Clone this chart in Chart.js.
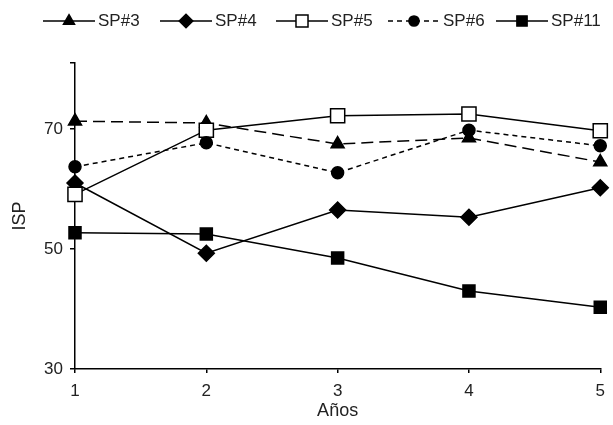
<!DOCTYPE html>
<html>
<head>
<meta charset="utf-8">
<script src="https://cdn.jsdelivr.net/npm/chart.js@4/dist/chart.umd.min.js"></script>
<style>
html,body{margin:0;padding:0;background:#fff;}
#wrap{width:613px;height:425px;}
</style>
</head>
<body>
<div id="wrap"><canvas id="c" width="613" height="425"></canvas></div>
<script>
const categories = ['1', '2', '3', '4', '5'];
const seriesNames = ['SP#3', 'SP#4', 'SP#5', 'SP#6', 'SP#11'];
const sp3 = [71.3, 71.0, 67.5, 68.5, 64.5];
const sp4 = [61.0, 49.3, 56.5, 55.3, 60.2];
const sp5 = [59.1, 69.8, 72.2, 72.5, 69.7];
const sp6 = [63.7, 67.7, 62.7, 69.8, 67.2];
const sp11 = [52.7, 52.5, 48.5, 43.0, 40.3];
const yTickValues = [30, 50, 70];
const yAxisMin = 30;
const yAxisMax = 81;
const xTitle = 'Años';
const yTitle = 'ISP';

const FONT = "'Liberation Sans', Arial, Helvetica, sans-serif";
const INK = '#000';
const TXT = '#222';

const styles = [
  {pointStyle: 'triangle', radius: 7.5, fill: INK, dash: [12, 6]},
  {pointStyle: 'rectRot', radius: 8, fill: INK, dash: []},
  {pointStyle: 'rect', radius: 10, fill: '#fff', dash: []},
  {pointStyle: 'circle', radius: 6, fill: INK, dash: [5, 4]},
  {pointStyle: 'rect', radius: 8.5, fill: INK, dash: []}
];
const allSeries = [sp3, sp4, sp5, sp6, sp11];

const datasets = allSeries.map((vals, i) => ({
  label: seriesNames[i],
  data: vals,
  borderColor: INK,
  borderWidth: 1.5,
  borderDash: styles[i].dash,
  pointStyle: styles[i].pointStyle,
  pointRadius: styles[i].radius,
  pointHoverRadius: styles[i].radius,
  pointBackgroundColor: styles[i].fill,
  pointBorderColor: INK,
  pointBorderWidth: 1.5,
  fill: false,
  tension: 0,
  order: allSeries.length - i
}));

function drawMarker(ctx, style, radius, fill, x, y) {
  ctx.save();
  ctx.fillStyle = fill;
  ctx.strokeStyle = INK;
  ctx.lineWidth = 1.5;
  ctx.setLineDash([]);
  ctx.beginPath();
  if (style === 'triangle') {
    for (let k = 0; k < 3; k++) {
      const a = -Math.PI / 2 + k * 2 * Math.PI / 3;
      const px = x + Math.cos(a) * radius, py = y + Math.sin(a) * radius;
      k === 0 ? ctx.moveTo(px, py) : ctx.lineTo(px, py);
    }
    ctx.closePath();
  } else if (style === 'rectRot') {
    ctx.moveTo(x, y - radius); ctx.lineTo(x + radius, y);
    ctx.lineTo(x, y + radius); ctx.lineTo(x - radius, y);
    ctx.closePath();
  } else if (style === 'rect') {
    const s = radius * Math.SQRT1_2;
    ctx.rect(x - s, y - s, 2 * s, 2 * s);
  } else {
    ctx.arc(x, y, radius, 0, Math.PI * 2);
  }
  ctx.fill();
  ctx.stroke();
  ctx.restore();
}

const legendStarts = [43, 160, 276, 388, 496];
const lineLegend = {
  id: 'lineLegend',
  afterDraw(chart) {
    const ctx = chart.ctx;
    const y = 21;
    chart.data.datasets.forEach((ds, i) => {
      const x0 = legendStarts[i];
      const len = 52;
      ctx.save();
      ctx.strokeStyle = INK;
      ctx.lineWidth = 1.5;
      ctx.setLineDash(i === 3 ? [5, 4] : (i === 0 ? [] : []));
      ctx.beginPath();
      ctx.moveTo(x0, y);
      ctx.lineTo(x0 + len, y);
      ctx.stroke();
      ctx.restore();
      drawMarker(ctx, styles[i].pointStyle, styles[i].radius * 0.85, styles[i].fill, x0 + len / 2, y);
      ctx.save();
      ctx.fillStyle = TXT;
      ctx.font = '17px ' + FONT;
      ctx.textBaseline = 'middle';
      ctx.textAlign = 'left';
      ctx.fillText(ds.label, x0 + len + 3, y);
      ctx.restore();
    });
  }
};

new Chart(document.getElementById('c'), {
  type: 'line',
  data: {labels: categories, datasets: datasets},
  plugins: [lineLegend],
  options: {
    responsive: false,
    animation: false,
    devicePixelRatio: 1,
    layout: {padding: {top: 63, right: 9, left: 0, bottom: 0}},
    plugins: {legend: {display: false}, tooltip: {enabled: false}},
    scales: {
      x: {
        type: 'category',
        offset: false,
        afterFit(scale) { scale.height = 56; },
        grid: {display: true, drawOnChartArea: false, drawTicks: true, tickLength: 4, color: INK, lineWidth: 1.5, offset: false},
        border: {display: true, color: INK, width: 1.5},
        ticks: {color: TXT, font: {family: FONT, size: 17}, padding: 8, maxRotation: 0, autoSkip: false},
        title: {display: true, text: xTitle, color: TXT, font: {family: FONT, size: 18}, padding: {top: 0, bottom: 3}}
      },
      y: {
        type: 'linear',
        min: yAxisMin,
        max: yAxisMax,
        afterFit(scale) { scale.width = 75; },
        afterBuildTicks(scale) {
          scale.ticks = yTickValues.concat([yAxisMax]).map(v => ({value: v}));
        },
        grid: {display: true, drawOnChartArea: false, drawTicks: true, tickLength: 5, color: INK, lineWidth: 1.5},
        border: {display: true, color: INK, width: 1.5},
        ticks: {
          color: TXT, font: {family: FONT, size: 17}, padding: 7,
          callback: v => (yTickValues.includes(v) ? String(v) : '')
        },
        title: {display: true, text: yTitle, color: TXT, font: {family: FONT, size: 18}, padding: {top: 9, bottom: 0}}
      }
    }
  }
});
</script>
</body>
</html>
